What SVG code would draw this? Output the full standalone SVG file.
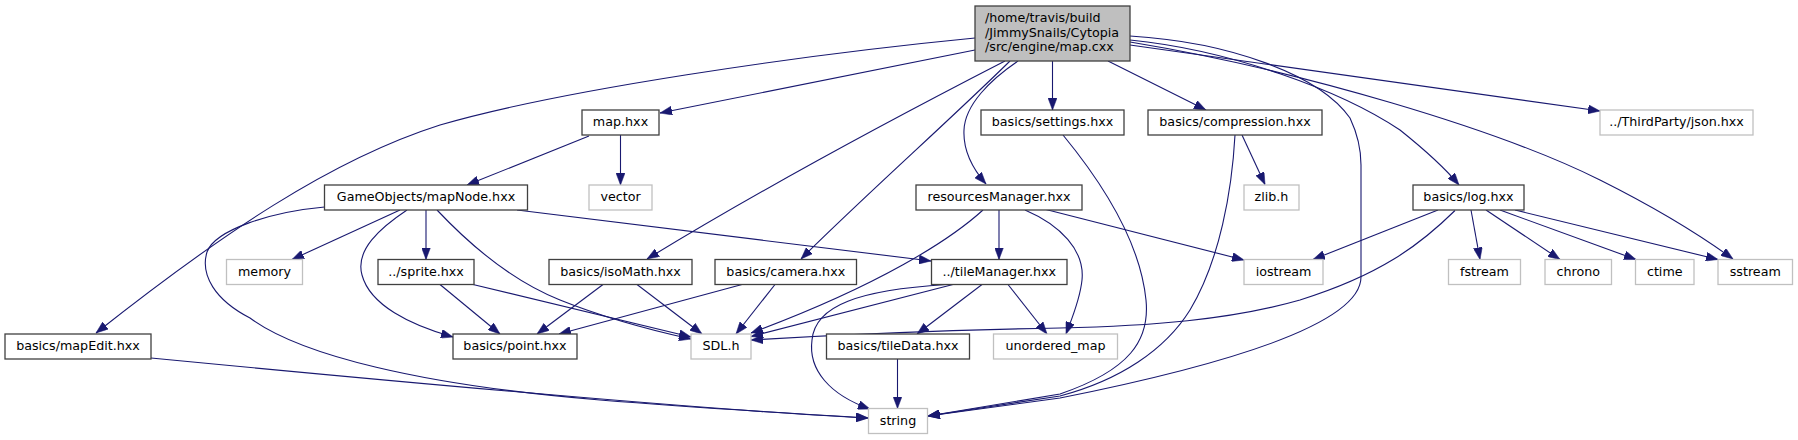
<svg xmlns="http://www.w3.org/2000/svg" width="1798" height="440" viewBox="0 0 1798 440">
<style>
.n rect{fill:#fff;stroke:#404040;stroke-width:1.3}
.g rect{fill:#fff;stroke:#c0c0c0;stroke-width:1.3}
.r rect{fill:#bfbfbf;stroke:#404040;stroke-width:1.3}
text{font-family:"DejaVu Sans","Liberation Sans",sans-serif;font-size:12.7px;fill:#000}
.c text{text-anchor:middle}
#edges path{fill:none;stroke:#191970;stroke-width:1.1;marker-end:url(#ah)}
</style>
<defs>
<marker id="ah" viewBox="0 0 12 9" refX="12" refY="4.5" markerWidth="12" markerHeight="9" markerUnits="userSpaceOnUse" orient="auto">
<path d="M0,0 L12,4.5 L0,9 z" fill="#191970" stroke="#191970" stroke-width="0.5"/>
</marker>
</defs>
<rect x="0" y="0" width="1798" height="440" fill="#fff"/>
<g id="edges">
<path d="M975,50 L660,113"/>
<path d="M975,38 C800,55 560,90 440,125 C330,160 220,235 96,333"/>
<path d="M1005,61 C900,115 760,190 647,259"/>
<path d="M1010,61 C950,120 860,200 801,259"/>
<path d="M1018,61 C990,80 965,105 964,130 C963,150 972,168 986,184"/>
<path d="M1052.5,61 L1052.5,110"/>
<path d="M1108,61 L1206,110"/>
<path d="M1130,45 L1600,111"/>
<path d="M1130,40 C1230,50 1340,90 1400,130 C1425,150 1445,168 1459,185"/>
<path d="M1130,42 C1300,70 1500,130 1600,180 C1660,210 1700,235 1733,259"/>
<path d="M1130,36 C1230,42 1320,75 1350,118 C1358,135 1361,150 1361,165 L1361,277 C1361,320 1250,360 1060,398 L928,416"/>
<path d="M589,136 L467,185"/>
<path d="M620.5,135 L620.5,185"/>
<path d="M1063,135 C1100,180 1140,240 1146,300 C1150,340 1130,370 1060,394 L928,416"/>
<path d="M1235,135 C1232,190 1220,260 1190,310 C1165,350 1120,380 1060,396 L928,416"/>
<path d="M1242,135 L1265,184.5"/>
<path d="M983,210 C950,240 880,285 751,333"/>
<path d="M999,210 L999,259.5"/>
<path d="M1025,210 C1060,225 1085,250 1082,280 C1080,300 1072,318 1066,334"/>
<path d="M1044,209 L1244,260"/>
<path d="M1438,210 L1313,259.5"/>
<path d="M1455,210.5 C1420,245 1380,275 1300,300 C1230,320 1150,326 1060,328 C950,330 850,334 751,340"/>
<path d="M1471,210 L1480,259.5"/>
<path d="M1486,210 L1560,259.5"/>
<path d="M1500,210 L1636,259.5"/>
<path d="M1515,210 L1718,259.5"/>
<path d="M400,210 L292,259.5"/>
<path d="M426,210 L426,259.5"/>
<path d="M407,210 C380,228 355,250 362,275 C370,305 410,325 453,337"/>
<path d="M437,210 C470,245 510,280 560,300 C600,316 650,330 691,339"/>
<path d="M517,210 L931,261"/>
<path d="M324.5,207 C270,212 215,230 207,252 C200,275 215,300 250,318 C300,355 420,385 600,400 C700,408 800,414 868,418"/>
<path d="M151,358 C400,382 700,410 868,418"/>
<path d="M982,284.5 L917,334"/>
<path d="M1008,284.5 L1047,334"/>
<path d="M953,284.5 L751,336.5"/>
<path d="M946,284.5 C860,290 815,305 812,340 C808,370 830,395 870,409"/>
<path d="M897.5,359 L897.5,408.5"/>
<path d="M440,284.5 L500,334"/>
<path d="M473,284.5 L691,337"/>
<path d="M603,284.5 L537,334"/>
<path d="M637,284.5 L702,334"/>
<path d="M742,284.5 L559,334"/>
<path d="M775,284.5 L736,334"/>
</g>
<g id="node-root" class="r"><rect x="975" y="6" width="155" height="55"/>
<text x="985" y="22">/home/travis/build</text><text x="985" y="36.5">/JimmySnails/Cytopia</text><text x="985" y="51">/src/engine/map.cxx</text></g>
<g id="node-maphxx" class="n c"><rect x="582" y="110" width="77" height="25"/><text x="620.5" y="126">map.hxx</text></g>
<g id="node-settings" class="n c"><rect x="981" y="110" width="143" height="25"/><text x="1052.5" y="126">basics/settings.hxx</text></g>
<g id="node-compression" class="n c"><rect x="1148" y="110" width="174" height="25"/><text x="1235" y="126">basics/compression.hxx</text></g>
<g id="node-json" class="g c"><rect x="1600" y="110" width="153" height="25"/><text x="1676.5" y="126">../ThirdParty/json.hxx</text></g>
<g id="node-mapnode" class="n c"><rect x="324.5" y="185" width="203" height="25"/><text x="426" y="201">GameObjects/mapNode.hxx</text></g>
<g id="node-vector" class="g c"><rect x="589" y="185" width="63" height="25"/><text x="620.5" y="201">vector</text></g>
<g id="node-resources" class="n c"><rect x="916" y="185" width="166" height="25"/><text x="999" y="201">resourcesManager.hxx</text></g>
<g id="node-zlib" class="g c"><rect x="1244" y="185" width="55" height="25"/><text x="1271.5" y="201">zlib.h</text></g>
<g id="node-log" class="n c"><rect x="1413" y="185" width="111" height="25"/><text x="1468.5" y="201">basics/log.hxx</text></g>
<g id="node-memory" class="g c"><rect x="226.5" y="259.5" width="76" height="25"/><text x="264.5" y="275.5">memory</text></g>
<g id="node-sprite" class="n c"><rect x="378" y="259.5" width="96" height="25"/><text x="426" y="275.5">../sprite.hxx</text></g>
<g id="node-isomath" class="n c"><rect x="549" y="259.5" width="143" height="25"/><text x="620.5" y="275.5">basics/isoMath.hxx</text></g>
<g id="node-camera" class="n c"><rect x="715" y="259.5" width="141.5" height="25"/><text x="785.75" y="275.5">basics/camera.hxx</text></g>
<g id="node-tilemanager" class="n c"><rect x="931.5" y="259.5" width="135.5" height="25"/><text x="999.25" y="275.5">../tileManager.hxx</text></g>
<g id="node-iostream" class="g c"><rect x="1244" y="259.5" width="79" height="25"/><text x="1283.5" y="275.5">iostream</text></g>
<g id="node-fstream" class="g c"><rect x="1448.5" y="259.5" width="72" height="25"/><text x="1484.5" y="275.5">fstream</text></g>
<g id="node-chrono" class="g c"><rect x="1545" y="259.5" width="66.5" height="25"/><text x="1578.25" y="275.5">chrono</text></g>
<g id="node-ctime" class="g c"><rect x="1635.5" y="259.5" width="58.5" height="25"/><text x="1664.75" y="275.5">ctime</text></g>
<g id="node-sstream" class="g c"><rect x="1718" y="259.5" width="74.5" height="25"/><text x="1755.25" y="275.5">sstream</text></g>
<g id="node-mapedit" class="n c"><rect x="5" y="334" width="146" height="25"/><text x="78" y="350">basics/mapEdit.hxx</text></g>
<g id="node-point" class="n c"><rect x="453" y="334" width="124" height="25"/><text x="515" y="350">basics/point.hxx</text></g>
<g id="node-sdl" class="g c"><rect x="691" y="334" width="60" height="25"/><text x="721" y="350">SDL.h</text></g>
<g id="node-tiledata" class="n c"><rect x="826.5" y="334" width="143" height="25"/><text x="898" y="350">basics/tileData.hxx</text></g>
<g id="node-unordered" class="g c"><rect x="993.5" y="334" width="124" height="25"/><text x="1055.5" y="350">unordered_map</text></g>
<g id="node-string" class="g c"><rect x="868.5" y="408.5" width="59" height="25"/><text x="898" y="424.5">string</text></g>
</svg>
